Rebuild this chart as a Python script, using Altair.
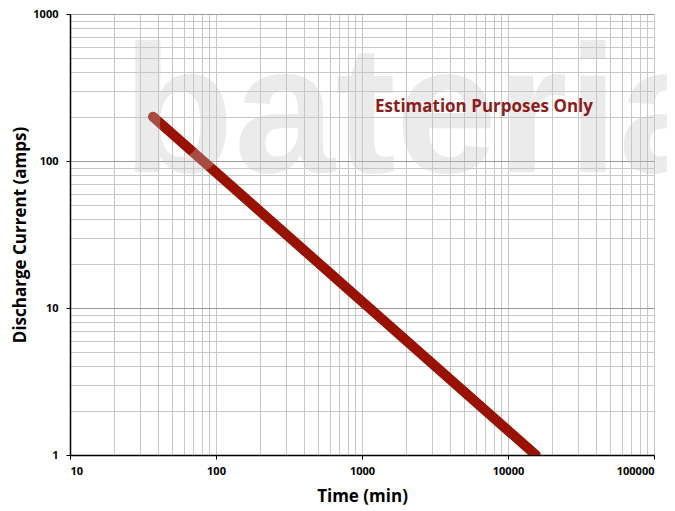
import altair as alt
import pandas as pd

# Data
time_min = [37, 15500]
current_amps = [200, 1]

x_grid = [m * 10 ** d for d in range(1, 5) for m in range(1, 10)] + [100000]
y_grid = [m * 10 ** d for d in range(0, 3) for m in range(1, 10)] + [1000]

note_text = ["Estimation Purposes Only"]
note_x = [6850]
note_y = [233]

wm_text = ["bateria"]
wm_x = [23]
wm_y = [84]

df = pd.DataFrame({"t": time_min, "i": current_amps})
note_df = pd.DataFrame({"txt": note_text, "t": note_x, "i": note_y})
wm_df = pd.DataFrame({"txt": wm_text, "t": wm_x, "i": wm_y})

FONT = "Open Sans"
major = "abs(log(datum.value)/LN10 - round(log(datum.value)/LN10)) < 0.000001"

xscale = alt.Scale(type="log", domain=[10, 100000], nice=False)
yscale = alt.Scale(type="log", domain=[1, 1000], nice=False)

xaxis = alt.Axis(
    values=x_grid,
    labelExpr=f"({major}) ? format(datum.value, 'd') : ''",
    grid=True,
    gridColor="#c8c8c8",
    gridWidth=1,
    tickColor="black",
    tickOpacity={"condition": {"test": major, "value": 1}, "value": 0},
    tickSize=4,
    domainColor="black",
    domainWidth=1.5,
    labelFont=FONT,
    labelFontWeight="bold",
    labelFontSize=11,
    labelColor="black",
    labelPadding=6,
    labelOverlap=False,
    title="Time (min)",
    titleFont=FONT,
    titleFontSize=17,
    titleFontWeight="bold",
    titleColor="black",
    titlePadding=12,
)
yaxis = alt.Axis(
    values=y_grid,
    labelExpr=f"({major}) ? format(datum.value, 'd') : ''",
    grid=True,
    gridColor={"condition": {"test": major, "value": "#9a9a9a"}, "value": "#c8c8c8"},
    gridWidth=1,
    tickColor="black",
    tickOpacity={"condition": {"test": major, "value": 1}, "value": 0},
    tickSize=4,
    domainColor="black",
    domainWidth=1.5,
    labelFont=FONT,
    labelFontWeight="bold",
    labelFontSize=11,
    labelColor="black",
    labelPadding=8,
    labelOverlap=False,
    title="Discharge Current (amps)",
    titleFont=FONT,
    titleFontSize=17,
    titleFontWeight="bold",
    titleColor="black",
    titlePadding=3,
)

line = alt.Chart(df).mark_line(
    color="#991100", strokeWidth=10, strokeCap="round", clip=True
).encode(
    x=alt.X("t:Q", scale=xscale, axis=xaxis),
    y=alt.Y("i:Q", scale=yscale, axis=yaxis),
)

note = alt.Chart(note_df).mark_text(
    font=FONT, fontSize=17, fontWeight="bold", color="#8e1c1c", align="center", baseline="middle"
).encode(
    x=alt.X("t:Q", scale=xscale),
    y=alt.Y("i:Q", scale=yscale),
    text="txt:N",
)

wm = alt.Chart(wm_df).mark_text(
    font="Liberation Sans", fontSize=182, fontWeight="bold", color="#c5c5c5",
    opacity=0.33, align="left", baseline="alphabetic"
).encode(
    x=alt.X("t:Q", scale=xscale),
    y=alt.Y("i:Q", scale=yscale),
    text="txt:N",
)

chart = alt.layer(line, wm, note).properties(
    width=584,
    height=441,
    autosize=alt.AutoSizeParams(type="none"),
    padding={"left": 62, "top": 6, "right": 13, "bottom": 56},
).configure_view(stroke="black", strokeWidth=1.5).configure(background="white")

chart.save("out.html", embed_options={"renderer": "svg", "actions": False})
